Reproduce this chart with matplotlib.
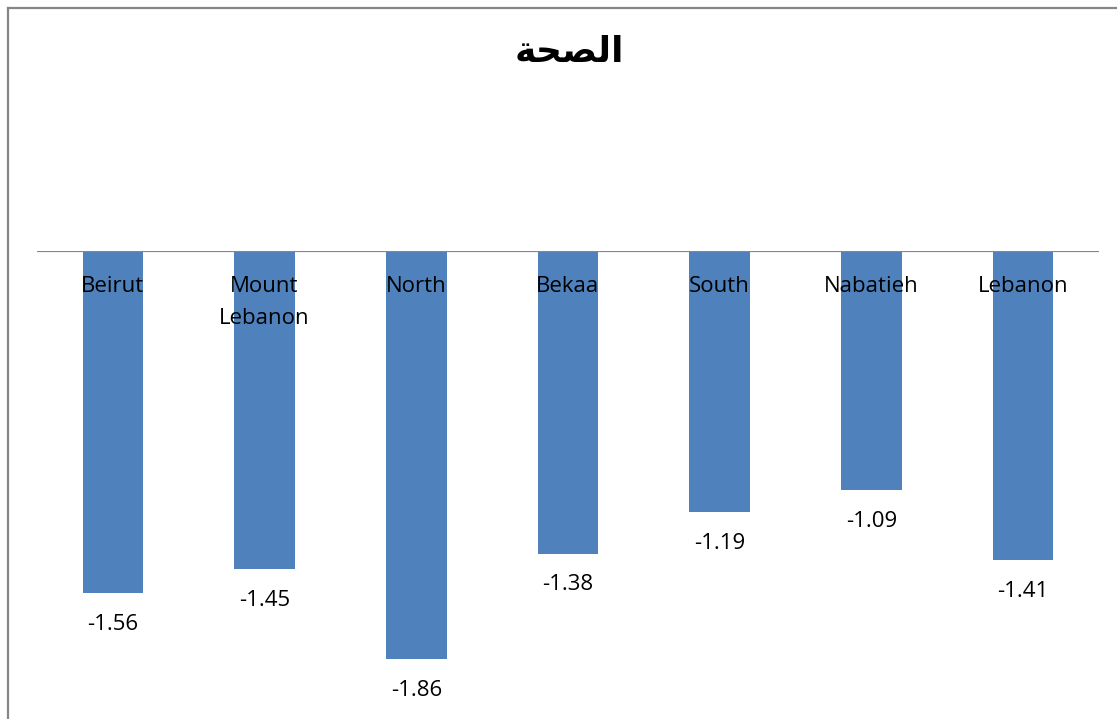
import matplotlib.pyplot as plt
from matplotlib.lines import Line2D

# data
regions = ['Beirut', 'Mount\nLebanon', 'North', 'Bekaa', 'South', 'Nabatieh', 'Lebanon']
values = [-1.56, -1.45, -1.86, -1.38, -1.19, -1.09, -1.41]
# "الصحة" written with Arabic presentation forms in visual order (matplotlib has no shaping)
title_text = '\ufe94\ufea4\ufebc\ufedf\ufe8d'

bar_color = '#4F81BD'
grey = '#868686'
W, H = 1117, 719

fig = plt.figure(figsize=(W / 100, H / 100), dpi=100)
fig.patch.set_facecolor('white')

# chart border: only left and top edges are visible, the rest is cropped off
bx, by = 7.5 / W, 1 - 7.5 / H
fig.add_artist(Line2D([bx, bx], [-0.05, by], transform=fig.transFigure, color=grey, linewidth=1.6))
fig.add_artist(Line2D([bx, 1.05], [by, by], transform=fig.transFigure, color=grey, linewidth=1.6))

ax = fig.add_axes([37 / W, 40 / H, 1062 / W, 428 / H])
x = range(len(regions))
ax.bar(x, values, width=0.4, color=bar_color)
ax.set_xlim(-0.5, len(regions) - 0.5)
ax.set_ylim(-1.95, 0)
for s in ['top', 'right', 'left', 'bottom']:
    ax.spines[s].set_visible(False)
ax.axhline(0, color=grey, linewidth=1.6, zorder=3)
ax.set_xticks([])
ax.set_yticks([])
ax.patch.set_alpha(0)

lab_font = 'Open Sans'
for i, name in enumerate(regions):
    ax.annotate(name, (i, 0), xytext=(0, -25), textcoords='offset pixels',
                ha='center', va='top', fontsize=16, family=lab_font,
                linespacing=1.7)
for i, v in enumerate(values):
    ax.annotate(f'{v:.2f}', (i, v), xytext=(0, -31), textcoords='offset pixels',
                ha='center', va='center', fontsize=16, family=lab_font)

fig.text(569 / W, 1 - 52 / H, title_text, ha='center', va='center',
         fontsize=26, fontweight='bold', family='DejaVu Sans')

fig.savefig('out.png', dpi=100)
